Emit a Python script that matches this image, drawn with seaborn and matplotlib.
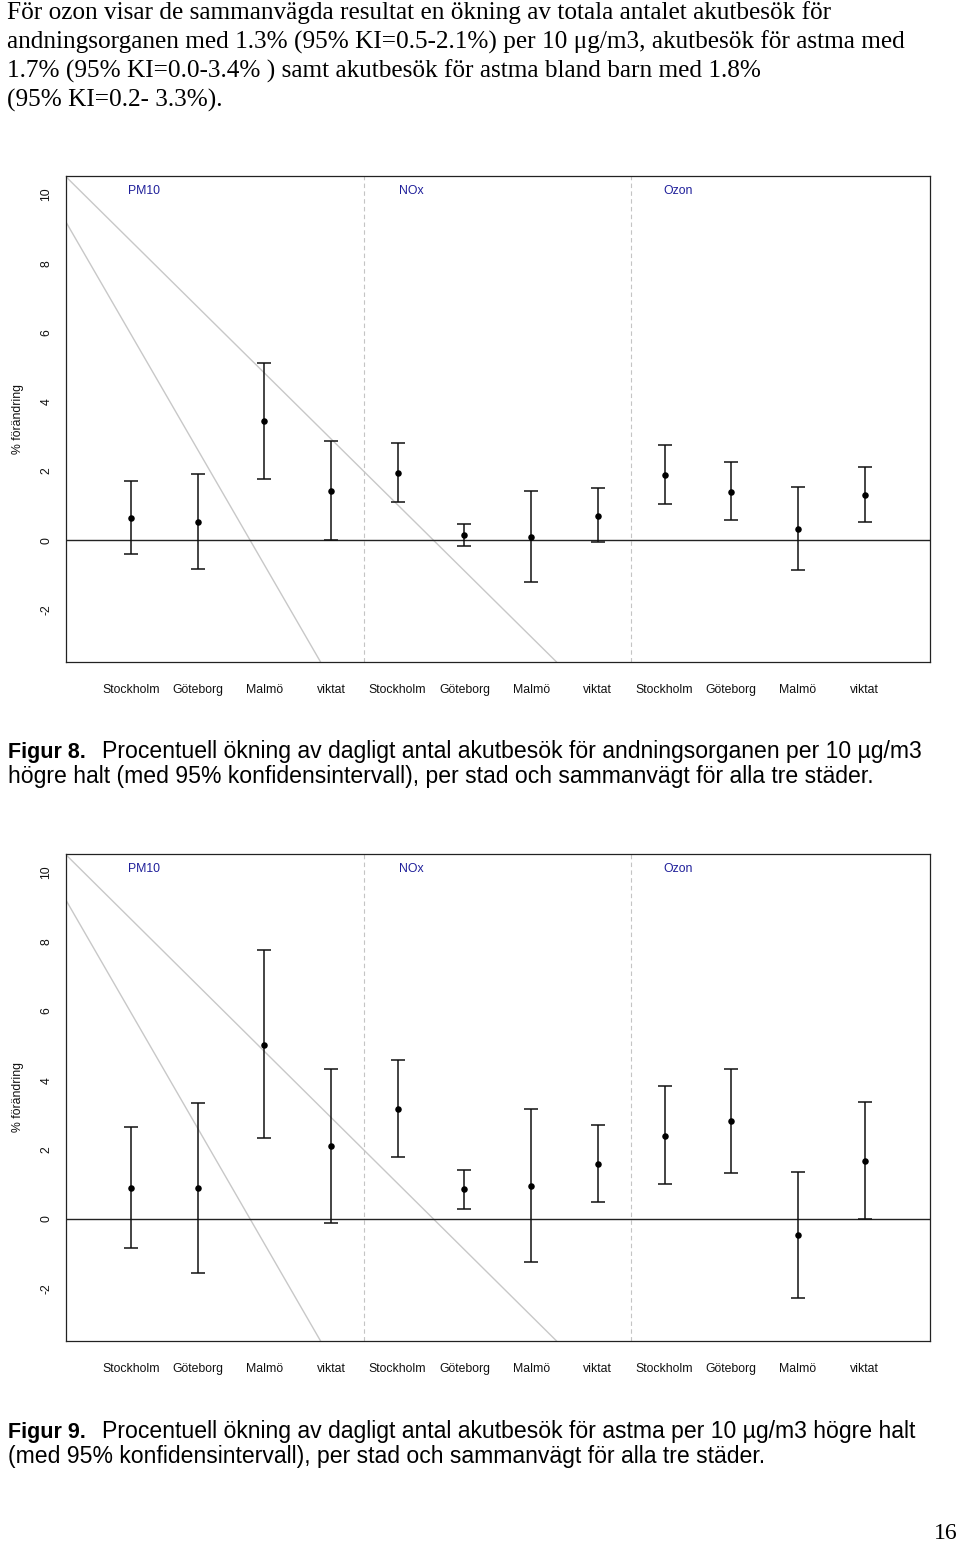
import numpy as np
import pandas as pd
import matplotlib
matplotlib.use("Agg")
import matplotlib.pyplot as plt
import seaborn as sns

# ---------------- data ----------------
cities = ["Stockholm", "Göteborg", "Malmö", "viktat"]
pollutants = ["PM10", "NOx", "Ozon"]
tick_labels = cities * 3

# Figur 8: akutbesök för andningsorganen
est8 = [0.64, 0.53, 3.44, 1.41, 1.94, 0.14, 0.10, 0.71, 1.88, 1.39, 0.33, 1.31]
lo8 = [-0.41, -0.82, 1.77, 0.00, 1.11, -0.16, -1.21, -0.04, 1.05, 0.57, -0.85, 0.52]
hi8 = [1.70, 1.92, 5.13, 2.87, 2.80, 0.48, 1.42, 1.50, 2.75, 2.25, 1.55, 2.10]

# Figur 9: akutbesök för astma
est9 = [0.89, 0.89, 5.02, 2.11, 3.17, 0.85, 0.96, 1.58, 2.40, 2.81, -0.47, 1.67]
lo9 = [-0.85, -1.55, 2.32, -0.12, 1.78, 0.29, -1.24, 0.48, 1.00, 1.32, -2.28, 0.00]
hi9 = [2.66, 3.35, 7.75, 4.32, 4.57, 1.41, 3.18, 2.70, 3.82, 4.32, 1.36, 3.37]

# grey diagonal reference lines (intercept, slope)
diag_intercepts = [10.55, 9.28]
diag_slopes = [-1.906, -3.33]

yticks = [-2, 0, 2, 4, 6, 8, 10]

para_lines = [
    "För ozon visar de sammanvägda resultat en ökning av totala antalet akutbesök för",
    "andningsorganen med 1.3% (95% KI=0.5-2.1%) per 10 \u03bcg/m3, akutbesök för astma med",
    "1.7% (95% KI=0.0-3.4% ) samt akutbesök för astma bland barn med 1.8%",
    "(95% KI=0.2- 3.3%).",
]
cap8 = ["Procentuell ökning av dagligt antal akutbesök för andningsorganen per 10 µg/m3",
        "högre halt (med 95% konfidensintervall), per stad och sammanvägt för alla tre städer."]
cap9 = ["Procentuell ökning av dagligt antal akutbesök för astma per 10 µg/m3 högre halt",
        "(med 95% konfidensintervall), per stad och sammanvägt för alla tre städer."]

# ---------------- style ----------------
sns.set_theme(style="white")
plt.rcParams["font.family"] = ["Liberation Sans", "DejaVu Sans"]

W, H = 960, 1543
fig = plt.figure(figsize=(W / 100, H / 100), dpi=100)


def fy(py):
    return 1 - py / H


def draw_panel(top_px, bot_px, est, lo, hi):
    left_px, right_px = 65.5, 930
    ax = fig.add_axes([left_px / W, fy(bot_px), (right_px - left_px) / W, (bot_px - top_px) / H])
    pos = np.arange(1, len(est) + 1)
    df = pd.DataFrame({"pos": pos, "est": est, "lo": lo, "hi": hi, "lab": tick_labels})

    for a, b in zip(diag_intercepts, diag_slopes):
        ax.axline((0, a), slope=b, color="#c8c8c8", lw=1.0, zorder=1)
    for xv in [4.5, 8.5]:
        ax.axvline(xv, color="#c4c4c4", lw=0.8, ls=(0, (4, 3)), zorder=1)
    ax.axhline(0, color="#222222", lw=1.0, zorder=2)

    ax.errorbar(df["pos"], df["est"], yerr=[df["est"] - df["lo"], df["hi"] - df["est"]],
                fmt="none", ecolor="#111111", elinewidth=1.1, capsize=4.8, capthick=1.1, zorder=3)
    sns.scatterplot(data=df, x="pos", y="est", ax=ax, color="black", s=22,
                    edgecolor="black", linewidth=0, zorder=4, legend=False)

    for i, p in enumerate(pollutants):
        ax.text(1.2 + 4 * i, 10.1, p, color="#1f1f9a", fontsize=8.8, ha="center", va="center")

    ax.set_xlim(0.02, 12.98)
    ax.set_ylim(-3.52, 10.52)
    ax.set_xticks(pos)
    ax.set_xticklabels(df["lab"], fontsize=8.8, color="#111111")
    ax.set_yticks(yticks)
    ax.set_yticklabels([str(v) for v in yticks], rotation=90, va="center", fontsize=8.8, color="#111111")
    ax.tick_params(axis="both", direction="out", length=5.5, width=0.9, color="#222222")
    ax.tick_params(axis="x", pad=10)
    ax.tick_params(axis="y", pad=4)
    ax.set_xlabel("")
    ax.set_ylabel("% förändring", fontsize=8.8, color="#111111")
    ax.yaxis.set_label_coords(-(left_px - 24) / (right_px - left_px), 0.5)
    for s in ax.spines.values():
        s.set_visible(True)
        s.set_color("#222222")
        s.set_linewidth(0.9)
    return ax


draw_panel(176, 662, est8, lo8, hi8)
draw_panel(854, 1341, est9, lo9, hi9)

# ---------------- page text ----------------
serif = ["Liberation Serif", "DejaVu Serif"]
for i, line in enumerate(para_lines):
    fig.text(7 / W, fy(19 + 29.3 * i), line, fontsize=18.2, family=serif,
             ha="left", va="baseline", color="black")

for base, label, lines in [(758.3, "Figur 8.", cap8), (1438, "Figur 9.", cap9)]:
    fig.text(8 / W, fy(base), label, fontsize=15.5, fontweight="bold",
             ha="left", va="baseline", color="black")
    fig.text(101.5 / W, fy(base), lines[0], fontsize=16.6, ha="left", va="baseline", color="black")
    fig.text(8 / W, fy(base + 25), lines[1], fontsize=16.6, ha="left", va="baseline", color="black")

fig.text(958 / W, fy(1539), "16", fontsize=17, family=serif, ha="right", va="baseline", color="black")

fig.savefig("out.png", dpi=100, facecolor="white")
